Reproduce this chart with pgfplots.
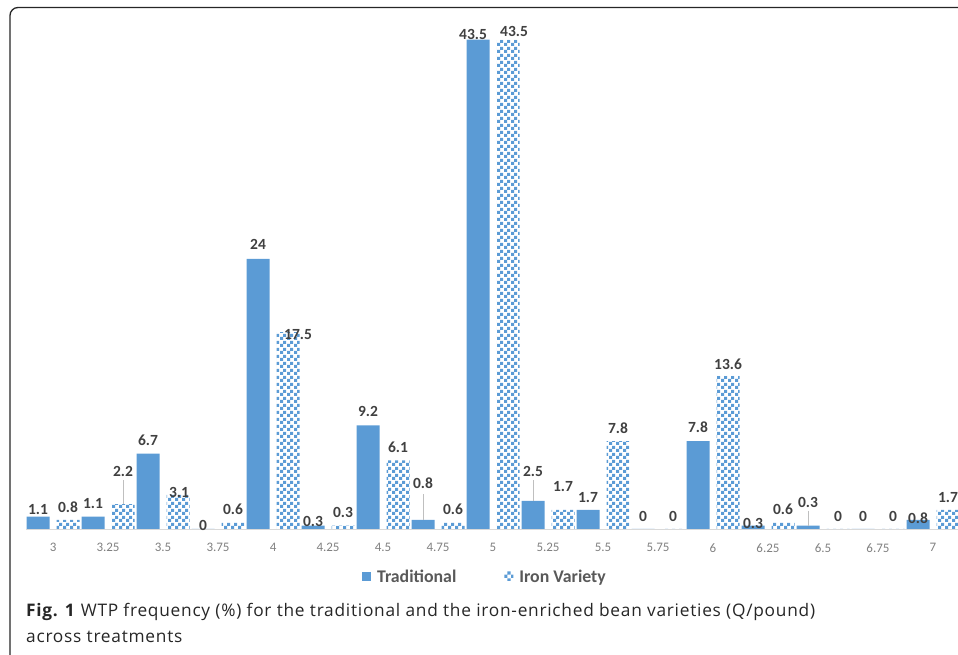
\documentclass[border=0pt]{standalone}
\usepackage{pgfplots}
\usepackage{pgfplotstable}
\pgfplotsset{compat=1.18}
\usetikzlibrary{patterns}
\usepackage{fontspec}
\setmainfont{Carlito}
\newfontfamily\capfont{Open Sans}[LetterSpace=4.3]

\definecolor{barblue}{HTML}{5B9BD5}
\definecolor{ticktxt}{HTML}{808080}
\definecolor{labtxt}{HTML}{404040}
\definecolor{legtxt}{HTML}{595959}

% blue checkerboard for the iron variety
\pgfdeclarepatternformonly{bluecheck}{\pgfpointorigin}{\pgfqpoint{7pt}{7pt}}{\pgfqpoint{7pt}{7pt}}{%
  \pgfpathrectangle{\pgfpointorigin}{\pgfqpoint{3.5pt}{3.5pt}}%
  \pgfpathrectangle{\pgfqpoint{3.5pt}{3.5pt}}{\pgfqpoint{3.5pt}{3.5pt}}%
  \pgfusepath{fill}}

% price, traditional, iron, label shifts (pt), leader lengths
\pgfplotstableread{
x    T    I    dT    dI    xT  xI  eT    eI
3    1.1  0.8  0     6     0   0   0     0
3.25 1.1  2.2  6     25.6  0   0   0     2.15
3.5  6.7  3.1  6.6   -5    0   1   0     0
3.75 0    0.6  -3    6     0   0   0     0
4    24   17.5 8     -9    0   10  0     0
4.25 0.3  0.3  -3    6.6   0   0   0     0
4.5  9.2  6.1  7.5   6     0   0   0     0
4.75 0.8  0.6  30    6     0   0   2.3   0
5    43.5 43.5 -1.4  1.6   -5  6   0     0
5.25 2.5  1.7  23    17    0   0   1.85  0
5.5  1.7  7.8  6     6     0   0   0     0
5.75 0    0    6     6     0   0   0     0
6    7.8  13.6 6.6   5     0   0   0     0
6.25 0.3  0.6  -5    6     0   0   0     0
6.5  0.3  0    16    6     0   0   1.3   0
6.75 0    0    6     6     0   0   0     0
7    0.8  1.7  -5    6     0   0   0     0
}\wtp

\begin{document}
\begin{tikzpicture}[x=1pt,y=1pt]
\path[use as bounding box] (0,0) rectangle (958,655);
\clip (0,0) rectangle (958,655);
\draw[rounded corners=8pt, line width=1.3pt, color=black!85] (10,-30) rectangle (990,647.5);

\begin{axis}[
  at={(26pt,126pt)}, anchor=south west, scale only axis,
  width=951pt, height=506.25pt,
  xmin=2.877, xmax=7.2, ymin=0, ymax=45,
  clip=false,
  ybar=7pt, bar width=23pt,
  axis x line*=bottom, axis y line=none,
  x axis line style={draw=black!15, line width=0.8pt},
  ytick=\empty,
  xtick={3,3.25,3.5,3.75,4,4.25,4.5,4.75,5,5.25,5.5,5.75,6,6.25,6.5,6.75,7},
  xticklabels={3,3.25,3.5,3.75,4,4.25,4.5,4.75,5,5.25,5.5,5.75,6,6.25,6.5,6.75,7},
  major tick length=0pt,
  xticklabel style={font=\fontsize{13}{15}\selectfont, text=ticktxt, yshift=-11pt},
  /pgf/number format/assume math mode=true,
  nodes near coords={\pgfmathprintnumber[assume math mode=true]{\pgfplotspointmeta}},
  every node near coord/.append style={font=\fontsize{15.5}{18}\selectfont\bfseries,
     text=labtxt, anchor=south, inner sep=1.5pt, yshift=\dy, xshift=\dx},
  error bars/error mark=none,
  error bars/error bar style={draw=black!25, line width=0.7pt},
  legend style={at={(0.4826,-0.0948)}, anchor=center, draw=none, fill=none,
     legend columns=2, font=\fontsize{17.8}{20}\selectfont\bfseries, text=legtxt,
     /tikz/every even column/.append style={column sep=46pt}},
]
\addplot[fill=barblue, draw=none,
  visualization depends on={\thisrow{dT} \as \dy},
  visualization depends on={\thisrow{xT} \as \dx},
  error bars/.cd, y dir=plus, y explicit,
  /pgfplots/legend image code/.code={\fill[barblue] (0pt,-4pt) rectangle (9pt,5pt); \path (13pt,0pt);}]
  table[x=x, y=T, y error=eT] {\wtp};
\addlegendentry{Traditional}
\addplot[pattern=bluecheck, pattern color=barblue, draw=none,
  visualization depends on={\thisrow{dI} \as \dy},
  visualization depends on={\thisrow{xI} \as \dx},
  error bars/.cd, y dir=plus, y explicit,
  /pgfplots/legend image code/.code={\fill[pattern=bluecheck, pattern color=barblue] (0pt,-4pt) rectangle (9pt,5pt); \path (13pt,0pt);}]
  table[x=x, y=I, y error=eI] {\wtp};
\addlegendentry{Iron Variety}
\end{axis}

\node[anchor=base west, inner sep=0, text=black!85, font=\capfont\fontsize{17.3}{20}\selectfont]
  at (26,38.3) {\textbf{Fig. 1} WTP frequency (\%) for the traditional and the iron-enriched bean varieties (Q/pound)};
\node[anchor=base west, inner sep=0, text=black!85, font=\capfont\fontsize{17.3}{20}\selectfont]
  at (26,12) {across treatments};
\end{tikzpicture}
\end{document}
